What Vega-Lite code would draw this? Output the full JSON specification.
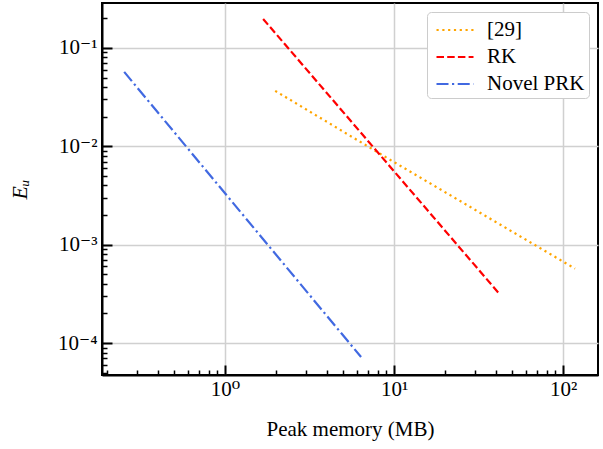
{
  "$schema": "https://vega.github.io/schema/vega-lite/v6.json",
  "width": 496,
  "height": 372,
  "autosize": {"type": "none"},
  "padding": {"left": 102, "top": 3, "right": 5, "bottom": 74},
  "background": "white",
  "config": {
    "view": {"stroke": "black", "strokeWidth": 2},
    "font": "Liberation Serif, Times New Roman, DejaVu Serif, serif",
    "axis": {
      "domainColor": "black",
      "domainWidth": 2,
      "tickColor": "black",
      "labelFont": "Liberation Serif, Times New Roman, DejaVu Serif, serif",
      "titleFont": "Liberation Serif, Times New Roman, DejaVu Serif, serif",
      "labelFontSize": 21,
      "titleFontSize": 21,
      "titleFontWeight": "normal",
      "labelColor": "black",
      "titleColor": "black",
      "gridColor": "#d0d0d0",
      "gridWidth": 1.5
    },
    "legend": {"labelFont": "Liberation Serif, Times New Roman, DejaVu Serif, serif", "labelFontSize": 21, "labelColor": "black"}
  },
  "data": {
    "values": [
      {"series": "[29]", "mem": 1.98, "err": 0.0366},
      {"series": "[29]", "mem": 10, "err": 0.0069},
      {"series": "[29]", "mem": 117.8, "err": 0.00057},
      {"series": "RK", "mem": 1.68, "err": 0.197},
      {"series": "RK", "mem": 42.4, "err": 0.00031},
      {"series": "Novel PRK", "mem": 0.253, "err": 0.057},
      {"series": "Novel PRK", "mem": 6.38, "err": 0.000072}
    ]
  },
  "mark": {"type": "line", "strokeWidth": 2.2, "clip": true},
  "encoding": {
    "x": {
      "field": "mem",
      "type": "quantitative",
      "scale": {"type": "log", "domain": [0.187, 161], "nice": false},
      "axis": {
        "title": "Peak memory (MB)",
        "titlePadding": 14,
        "values": [0.2,0.3,0.4,0.5,0.6,0.7,0.8,0.9,1,2,3,4,5,6,7,8,9,10,20,30,40,50,60,70,80,90,100],
        "labelExpr": "abs(log(datum.value)/LN10 - round(log(datum.value)/LN10)) < 0.01 ? ['10⁻⁴','10⁻³','10⁻²','10⁻¹','10⁰','10¹','10²'][round(log(datum.value)/LN10)+4] : ''",
        "labelPadding": 13,
        "labelFlush": false,
        "labelOverlap": false,
        "tickSize": {"condition": {"test": "abs(log(datum.value)/LN10 - round(log(datum.value)/LN10)) < 0.01", "value": -10}, "value": -5},
        "tickWidth": {"condition": {"test": "abs(log(datum.value)/LN10 - round(log(datum.value)/LN10)) < 0.01", "value": 2}, "value": 1.5},
        "gridOpacity": {"condition": {"test": "abs(log(datum.value)/LN10 - round(log(datum.value)/LN10)) < 0.01", "value": 1}, "value": 0}
      }
    },
    "y": {
      "field": "err",
      "type": "quantitative",
      "scale": {"type": "log", "domain": [0.0000473, 0.286], "nice": false},
      "axis": {
        "title": "Eᵤ",
        "titleFontStyle": "italic",
        "titleFontSize": 22,
        "titlePadding": 26,
        "values": [0.00005,0.00006,0.00007,0.00008,0.00009,0.0001,0.0002,0.0003,0.0004,0.0005,0.0006,0.0007,0.0008,0.0009,0.001,0.002,0.003,0.004,0.005,0.006,0.007,0.008,0.009,0.01,0.02,0.03,0.04,0.05,0.06,0.07,0.08,0.09,0.1,0.2],
        "labelExpr": "abs(log(datum.value)/LN10 - round(log(datum.value)/LN10)) < 0.01 ? ['10⁻⁴','10⁻³','10⁻²','10⁻¹','10⁰','10¹','10²'][round(log(datum.value)/LN10)+4] : ''",
        "labelPadding": 15,
        "labelFlush": false,
        "labelOverlap": false,
        "tickSize": {"condition": {"test": "abs(log(datum.value)/LN10 - round(log(datum.value)/LN10)) < 0.01", "value": -10}, "value": -5},
        "tickWidth": {"condition": {"test": "abs(log(datum.value)/LN10 - round(log(datum.value)/LN10)) < 0.01", "value": 2}, "value": 1.5},
        "gridOpacity": {"condition": {"test": "abs(log(datum.value)/LN10 - round(log(datum.value)/LN10)) < 0.01", "value": 1}, "value": 0}
      }
    },
    "color": {
      "field": "series",
      "type": "nominal",
      "scale": {"domain": ["[29]", "RK", "Novel PRK"], "range": ["#FFA500", "#FF0000", "#4169E1"]},
      "legend": {
        "title": null,
        "orient": "none",
        "legendX": 325,
        "legendY": 9,
        "symbolType": "M-1.48,0H1.48",
        "symbolSize": 625,
        "symbolStrokeWidth": 2.2,
        "symbolOffset": 10,
        "rowPadding": 3,
        "labelOffset": 18,
        "padding": 4,
        "strokeColor": "#cccccc",
        "fillColor": "white",
        "cornerRadius": 4
      }
    },
    "strokeDash": {
      "field": "series",
      "type": "nominal",
      "scale": {"domain": ["[29]", "RK", "Novel PRK"], "range": [[2.2, 3.6], [7.5, 3.2], [12, 3.5, 2.2, 3.5]]},
      "legend": null
    }
  }
}
